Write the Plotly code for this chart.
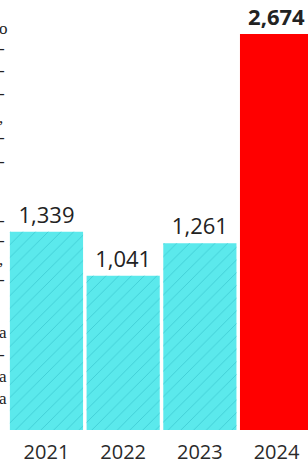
import plotly.graph_objects as go

years = ["2021", "2022", "2023", "2024"]
values = [1339, 1041, 1261, 2674]
labels = ["1,339", "1,041", "1,261", "<b>2,674</b>"]
colors = ["#5be9ec", "#5be9ec", "#5be9ec", "#ff0000"]
hatched = [True, True, True, False]
hatch_color = "#40cdd5"

# partial glyphs of neighbouring text at the left edge (y pixel, char)
edge_chars = [(30, "o"), (52, "-"), (75, "-"), (100, "-"), (125, ","), (147, "-"),
              (172, "-"), (235, "-"), (257, "-"), (277, ","), (298, "-"),
              (355, "a"), (378, "-"), (402, "a"), (425, "a")]

W, H = 308, 459
fig = go.Figure()
fig.add_trace(go.Bar(
    x=years, y=values,
    text=labels, textposition="outside", cliponaxis=False,
    textfont=dict(family="Open Sans", size=22, color="#222222"),
    marker=dict(color=colors, line=dict(width=0)),
))
fig.add_trace(go.Bar(
    x=years, y=[v if h else None for v, h in zip(values, hatched)],
    marker=dict(color=hatch_color, line=dict(width=0),
                pattern=dict(shape="/", size=9, solidity=0.1, fillmode="replace")),
))

annotations = []
for ypx, ch in edge_chars:
    annotations.append(dict(
        x=0, xref="paper", xanchor="left",
        y=1 - ypx / H, yref="paper", yanchor="middle",
        text=ch, showarrow=False,
        font=dict(family="Liberation Serif", size=17, color="#222222"),
        xshift=-3,
    ))

fig.update_layout(
    width=W, height=H,
    margin=dict(l=0, r=0, t=0, b=29, autoexpand=False),
    paper_bgcolor="white", plot_bgcolor="white",
    barmode="overlay",
    bargap=0.046,
    showlegend=False,
    annotations=annotations,
    xaxis=dict(range=[-0.606, 3.41], showgrid=False, zeroline=False, showline=False,
               automargin=False,
               ticks="", tickfont=dict(family="Open Sans", size=20, color="#2a2a2a"),
               ticklabelstandoff=8),
    yaxis=dict(range=[0, 2904], visible=False, automargin=False),
)

fig.write_html("out.html", config={"displayModeBar": False, "staticPlot": True},
               post_script="document.body.style.margin='0';document.body.style.overflow='hidden';")
